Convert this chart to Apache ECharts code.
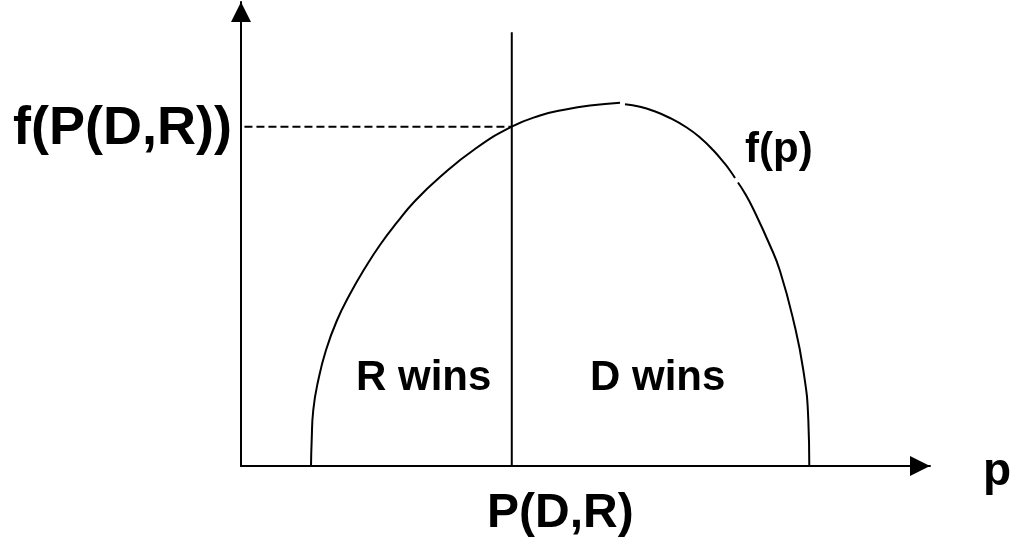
<!DOCTYPE html>
<html>
<head>
<meta charset="utf-8">
<script src="https://cdn.jsdelivr.net/npm/echarts@6/dist/echarts.min.js"></script>
<style>
html,body{margin:0;padding:0;background:#fff;}
#chart{width:1019px;height:546px;}
</style>
</head>
<body>
<div id="chart"></div>
<script>
// Curve f(p): p values and f values (abstract units); null = small break in the drawn curve
const pValues = [10.16, 10.26, 10.49, 11.22, 12.34, 13.89, 15.82, 18.00, 20.17, 22.64, 25.25, 28.88, 33.96, 39.29, 43.40, 46.73, 50.65, 55.01, null,
                 55.73, 57.91, 59.80, 62.26, 64.69, 66.62, 68.51, 70.25, 70.97, 71.70, null,
                 72.13, 73.15, 74.35, 76.78, 78.23, 80.16, 81.61, 82.34, 82.48];
const fValues = [0, 5.60, 12.07, 18.53, 25.00, 31.25, 37.07, 42.67, 47.63, 52.48, 57.11, 62.28, 68.32, 73.13, 75.54, 76.72, 77.69, 78.30, null,
                 77.95, 77.41, 76.57, 75.00, 72.95, 70.80, 68.10, 65.09, 63.69, 62.07, null,
                 61.10, 58.73, 55.39, 47.52, 42.03, 31.47, 20.69, 9.91, 0];
// Marker P(D,R) and f(P(D,R))
const pDR = [39.3];
const fPDR = [73.1];
const dividerTop = [93.5];
const labels = {yMark: 'f(P(D,R))', xMark: 'P(D,R)', curve: 'f(p)', left: 'R wins', right: 'D wins', xName: 'p'};

const chart = echarts.init(document.getElementById('chart'), null, {renderer: 'canvas'});
const FONT = '"Liberation Sans", Arial, sans-serif';
const curve = pValues.map((p, i) => (p === null ? ['-', '-'] : [p, fValues[i]]));

chart.setOption({
  animation: false,
  backgroundColor: '#ffffff',
  grid: {left: 241, right: 89, top: 2, bottom: 80, containLabel: false},
  xAxis: {
    type: 'value', min: 0, max: 100,
    axisLine: {show: true, symbol: ['none', 'triangle'], symbolSize: [20, 20], symbolOffset: [0, -10], lineStyle: {color: '#000', width: 2}},
    axisTick: {show: false}, axisLabel: {show: false}, splitLine: {show: false}
  },
  yAxis: {
    type: 'value', min: 0, max: 100,
    axisLine: {show: true, symbol: ['none', 'triangle'], symbolSize: [20, 20], symbolOffset: [0, -10], lineStyle: {color: '#000', width: 2}},
    axisTick: {show: false}, axisLabel: {show: false}, splitLine: {show: false}
  },
  series: [
    {
      type: 'line', data: curve, smooth: 0.5, showSymbol: false, connectNulls: false,
      lineStyle: {color: '#000', width: 2}
    },
    {
      type: 'line', data: [[pDR[0], 0], [pDR[0], dividerTop[0]]], showSymbol: false,
      lineStyle: {color: '#000', width: 2}
    },
    {
      type: 'line', data: [[0.5, fPDR[0]], [pDR[0], fPDR[0]]], showSymbol: false,
      lineStyle: {color: '#000', width: 2, type: [8, 4]}
    }
  ],
  graphic: [
    {type: 'text', x: 13, y: 129, style: {text: labels.yMark, font: 'bold 54px ' + FONT, fill: '#000', textAlign: 'left', textVerticalAlign: 'middle'}},
    {type: 'text', x: 745, y: 150, style: {text: labels.curve, font: 'bold 42px ' + FONT, fill: '#000', textAlign: 'left', textVerticalAlign: 'middle'}},
    {type: 'text', x: 356, y: 378, style: {text: labels.left, font: 'bold 42px ' + FONT, fill: '#000', textAlign: 'left', textVerticalAlign: 'middle'}},
    {type: 'text', x: 590, y: 378, style: {text: labels.right, font: 'bold 42px ' + FONT, fill: '#000', textAlign: 'left', textVerticalAlign: 'middle'}},
    {type: 'text', x: 487, y: 514, style: {text: labels.xMark, font: 'bold 48px ' + FONT, fill: '#000', textAlign: 'left', textVerticalAlign: 'middle'}},
    {type: 'text', x: 983, y: 472, style: {text: labels.xName, font: 'bold 46px ' + FONT, fill: '#000', textAlign: 'left', textVerticalAlign: 'middle'}}
  ]
});
</script>
</body>
</html>
